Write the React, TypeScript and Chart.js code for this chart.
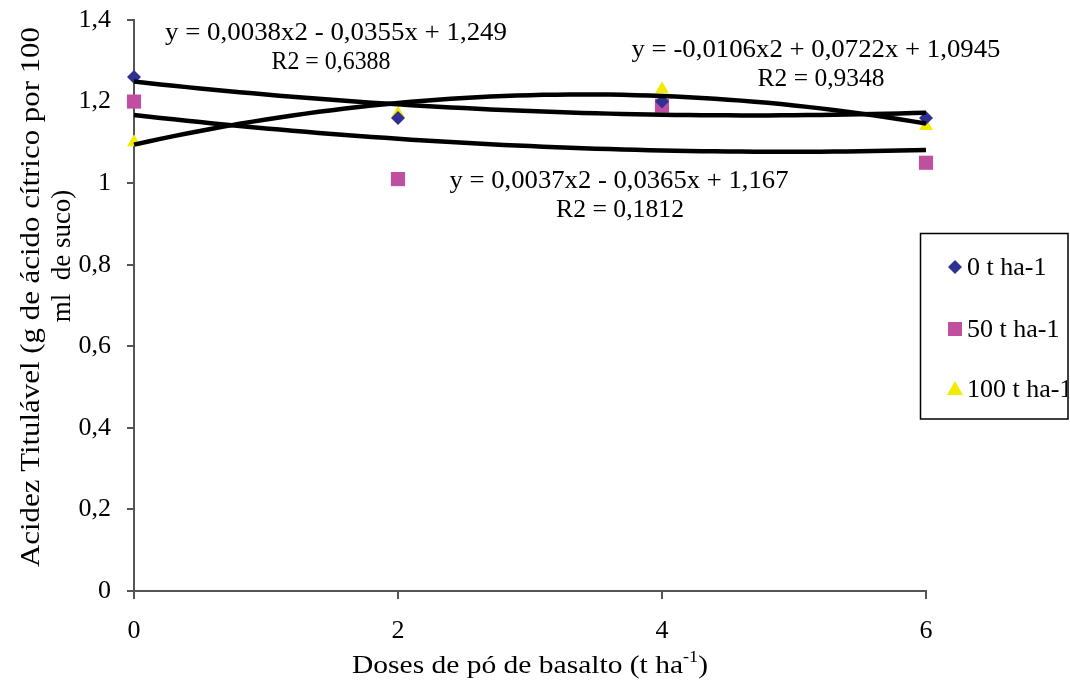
import React, { useEffect, useRef } from "react";
import { Chart, registerables } from "chart.js";

Chart.register(...registerables);

// ---- data ----
const doses = [0, 2, 4, 6];
const seriesNames = ["0 t ha-1", "50 t ha-1", "100 t ha-1"];
const values0 = [1.26, 1.16, 1.2, 1.16];
const values50 = [1.2, 1.01, 1.19, 1.05];
const values100 = [1.1, 1.17, 1.23, 1.14];
// quadratic trendline coefficients [a, b, c] for y = a x^2 + b x + c
const trend0 = [0.0038, -0.0355, 1.249];
const trend50 = [0.0037, -0.0365, 1.167];
const trend100 = [-0.0106, 0.0722, 1.0945];
const eqLabels0 = ["y = 0,0038x2 - 0,0355x + 1,249", "R2 = 0,6388"];
const eqLabels50 = ["y = 0,0037x2 - 0,0365x + 1,167", "R2 = 0,1812"];
const eqLabels100 = ["y = -0,0106x2 + 0,0722x + 1,0945", "R2 = 0,9348"];
const xTicks = [0, 2, 4, 6];
const yTicks = [0, 0.2, 0.4, 0.6, 0.8, 1.0, 1.2, 1.4];
const yTitleLines = ["Acidez Titulável (g de ácido cítrico por 100", "ml  de suco)"];
const xTitle = "Doses de pó de basalto (t ha";

const FONT = "'Liberation Serif', 'Times New Roman', serif";
const colors = ["#2E3192", "#C04FA0", "#F2EA00"];
const styles = ["rectRot", "rect", "triangle"];
const radii = [7, 10, 8];

function trendPoints(coef: number[]) {
  const pts: { x: number; y: number }[] = [];
  for (let i = 0; i <= 60; i++) {
    const x = i / 10;
    pts.push({ x, y: coef[0] * x * x + coef[1] * x + coef[2] });
  }
  return pts;
}

function drawFit(ctx: CanvasRenderingContext2D, text: string, cx: number, cy: number, w: number, size: number, rot = 0) {
  ctx.save();
  ctx.font = `${size}px ${FONT}`;
  ctx.textAlign = "center";
  ctx.textBaseline = "middle";
  const m = ctx.measureText(text).width;
  ctx.translate(cx, cy);
  if (rot) ctx.rotate(rot);
  if (w > 0) ctx.scale(w / m, 1);
  ctx.fillText(text, 0, 0);
  ctx.restore();
}

const overlay = {
  id: "overlay",
  afterDraw(chart: any) {
    const ctx = chart.ctx as CanvasRenderingContext2D;
    ctx.save();
    ctx.fillStyle = "#000";
    // equation labels: [lines, cx, cy, w1, cx2, w2]
    const eqs: [string[], number, number, number, number, number][] = [
      [eqLabels0, 336, 33, 342, 331, 119],
      [eqLabels100, 816, 50, 369, 821, 127],
      [eqLabels50, 619, 181, 339, 620, 128],
    ];
    for (const [lines, cx, cy, w1, cx2, w2] of eqs) {
      drawFit(ctx, lines[0], cx, cy, w1, 26);
      drawFit(ctx, lines[1], cx2, cy + 29, w2, 26);
    }
    // y title
    drawFit(ctx, yTitleLines[0], 32, 297, 540, 27, -Math.PI / 2);
    drawFit(ctx, yTitleLines[1], 63, 256, 0, 27, -Math.PI / 2);
    // x title with superscript
    ctx.save();
    ctx.textAlign = "left";
    ctx.textBaseline = "middle";
    ctx.font = `26px ${FONT}`;
    const w1 = ctx.measureText(xTitle).width;
    ctx.font = `16px ${FONT}`;
    const w2 = ctx.measureText("-1").width;
    ctx.font = `26px ${FONT}`;
    const w3 = ctx.measureText(")").width;
    const tot = w1 + w2 + w3;
    const sx = 356 / tot;
    ctx.translate(352, 666);
    ctx.scale(sx, 1);
    ctx.fillText(xTitle, 0, 0);
    ctx.font = `16px ${FONT}`;
    ctx.fillText("-1", w1, -8);
    ctx.font = `26px ${FONT}`;
    ctx.fillText(")", w1 + w2, 0);
    ctx.restore();
    // legend
    ctx.fillStyle = "#fff";
    ctx.fillRect(920, 233, 148, 186);
    ctx.strokeStyle = "#000";
    ctx.lineWidth = 1.5;
    ctx.strokeRect(920.5, 233.5, 147.5, 185.5);
    ctx.save();
    ctx.beginPath();
    ctx.rect(921, 234, 146, 184);
    ctx.clip();
    const ly = [267, 329, 389];
    for (let i = 0; i < 3; i++) {
      ctx.fillStyle = colors[i];
      ctx.beginPath();
      const cx = 955, cy = ly[i];
      if (i === 0) {
        ctx.moveTo(cx, cy - 7); ctx.lineTo(cx + 7, cy); ctx.lineTo(cx, cy + 7); ctx.lineTo(cx - 7, cy);
      } else if (i === 1) {
        ctx.rect(cx - 7, cy - 7, 14, 14);
      } else {
        ctx.moveTo(cx, cy - 8); ctx.lineTo(cx + 8, cy + 6); ctx.lineTo(cx - 8, cy + 6);
      }
      ctx.closePath();
      ctx.fill();
      ctx.fillStyle = "#000";
      ctx.font = `26px ${FONT}`;
      ctx.textAlign = "left";
      ctx.textBaseline = "middle";
      ctx.fillText(seriesNames[i], 967, cy + 1);
    }
    ctx.restore();
    ctx.restore();
  },
};

export default function App() {
  const ref = useRef<HTMLCanvasElement | null>(null);
  useEffect(() => {
    document.body.style.margin = "0";
    const canvas = ref.current!;
    const mk = (vals: number[]) => doses.map((d, i) => ({ x: d, y: vals[i] }));
    const scatterSets = [values0, values50, values100].map((vals, i) => ({
      type: "scatter" as const,
      label: seriesNames[i],
      data: mk(vals),
      pointStyle: styles[i],
      pointRadius: radii[i],
      pointBackgroundColor: colors[i],
      pointBorderColor: colors[i],
      pointBorderWidth: 0,
      showLine: false,
      clip: false as any,
      order: 2,
    }));
    const lineSets = [trend0, trend50, trend100].map((c) => ({
      type: "scatter" as const,
      label: "trend",
      data: trendPoints(c),
      showLine: true,
      borderColor: "#000",
      borderWidth: 4.5,
      pointRadius: 0,
      tension: 0,
      clip: false as any,
      order: 1,
    }));
    const chart = new Chart(canvas, {
      type: "scatter",
      data: { datasets: [...scatterSets, ...lineSets] as any },
      options: {
        responsive: false,
        animation: false,
        events: [],
        layout: { padding: { top: 20, right: 144, left: 0, bottom: 0 } },
        plugins: { legend: { display: false }, tooltip: { enabled: false } },
        scales: {
          x: {
            type: "linear",
            min: 0,
            max: 6,
            afterBuildTicks: (s: any) => { s.ticks = xTicks.map((v) => ({ value: v })); },
            afterFit: (s: any) => { s.height = 93; s.paddingLeft = 0; s.paddingRight = 0; },
            grid: { drawOnChartArea: false, drawTicks: true, tickLength: 8, color: "#555", lineWidth: 2 },
            border: { display: true, color: "#555", width: 2 },
            ticks: { color: "#000", font: { family: FONT, size: 26 }, padding: 17, maxRotation: 0 },
          },
          y: {
            type: "linear",
            min: 0,
            max: 1.4,
            afterBuildTicks: (s: any) => { s.ticks = yTicks.map((v) => ({ value: v })); },
            afterFit: (s: any) => { s.width = 134; s.paddingTop = 0; s.paddingBottom = 0; },
            grid: { drawOnChartArea: false, drawTicks: true, tickLength: 7, color: "#555", lineWidth: 2 },
            border: { display: true, color: "#555", width: 2 },
            ticks: {
              color: "#000",
              font: { family: FONT, size: 26 },
              padding: 16,
              callback: (v: any) => String(Math.round(Number(v) * 10) / 10).replace(".", ","),
            },
          },
        },
      },
      plugins: [overlay],
    });
    return () => chart.destroy();
  }, []);
  return (
    <div style={{ position: "absolute", left: 0, top: 0, width: 1070, height: 684, background: "#fff" }}>
      <canvas ref={ref} width={1070} height={684} style={{ width: 1070, height: 684 }} />
    </div>
  );
}
